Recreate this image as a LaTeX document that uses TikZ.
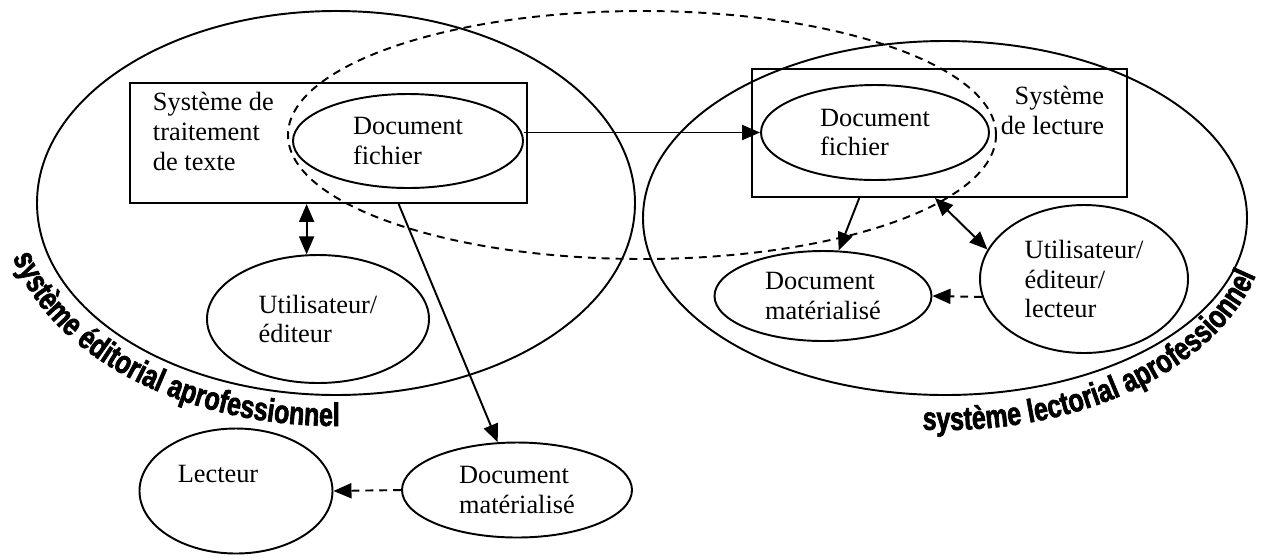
\documentclass[tikz,border=0pt]{standalone}
\usepackage{fontspec}
\setmainfont{Liberation Serif}
\newfontfamily\wafont[FakeStretch=0.77,FakeBold=2]{Liberation Sans}
\usetikzlibrary{arrows.meta,decorations.text,shapes.geometric}

\newcommand\wastyle{\wafont\bfseries\fontsize{18.5}{18.5}\selectfont}

\tikzset{
	bubble/.style={draw, ellipse, inner sep=0pt, align=left},
	sysbox/.style={draw, rectangle, inner sep=0pt},
	dashline/.style={dash pattern=on 4.5pt off 3.4pt},
}

\begin{document}
\begin{tikzpicture}[font=\fontsize{15}{17}\selectfont, line width=1.1pt, >={Triangle[length=0.36cm,width=0.3cm]}]
	\useasboundingbox (0,0) rectangle (25.32,-11.16);
	
	% the two systems and the shared part
	\node[bubble, minimum width=11.96cm, minimum height=7.68cm] (editsys) at (6.72,-4.06) {};
	\node[bubble, minimum width=12.08cm, minimum height=7.08cm] (readsys) at (18.9,-4.36) {};
	\node[bubble, dashline, minimum width=14.16cm, minimum height=4.96cm] (shared) at (12.84,-2.7) {};
	
	% software boxes
	\node[sysbox, minimum width=7.94cm, minimum height=2.4cm] (sysl) at (6.57,-2.86) {};
	\node[anchor=north west, align=left, inner sep=0pt] (sysltxt) at (3.04,-1.82) {Système de\\traitement\\de texte};
	\node[sysbox, minimum width=7.5cm, minimum height=2.56cm] (sysr) at (18.79,-2.66) {};
	\node[anchor=north east, align=right, inner sep=0pt] (sysrtxt) at (22.1,-1.7) {Système\\de lecture};
	
	% documents and people
	\node[bubble, minimum width=4.6cm, minimum height=1.88cm] (dfl) at (8.16,-2.82) {Document\\fichier};
	\node[bubble, minimum width=4.56cm, minimum height=1.9cm] (dfr) at (17.5,-2.65) {Document\\fichier};
	\node[bubble, minimum width=4.44cm, minimum height=2.56cm] (ul) at (6.36,-6.38) {Utilisateur/\\éditeur};
	\node[bubble, minimum width=4.6cm, minimum height=1.9cm] (dml) at (10.34,-9.8) {Document\\matérialisé};
	\node[bubble, minimum width=3.86cm, minimum height=2.5cm] (reader) at (4.72,-9.82) {};
	\node (readertxt) at ([shift={(-0.36,0.34)}]reader.center) {Lecteur};
	\node[bubble, minimum width=4.34cm, minimum height=1.8cm] (dmr) at (16.46,-5.92) {Document\\matérialisé};
	\node[bubble, minimum width=4.16cm, minimum height=2.96cm] (uel) at (21.68,-5.58) {Utilisateur/\\éditeur/\\lecteur};
	
	% arrows
	\draw[->] (dfl.east |- dfr.west) -- (dfr.west);
	\draw[<->] (sysl.south -| ul.100) -- (ul.100);
	\draw[->] (sysl.-41) -- (dml.112);
	\draw[->, dashline] (dml.west) -- (reader.east);
	\draw[->] (sysr.219) -- (dmr.71);
	\draw[<->] (sysr.266) -- (uel.163);
	\draw[->, dashline] (uel.190) -- (dmr.east);
	
	% titles round the systems
	\path[decorate, decoration={text along path, text align=left, text={|\wastyle|système éditorial aprofessionnel}}]
		(editsys.center) ++(194:6.66 and 4.46) arc[start angle=194, end angle=285, x radius=6.66, y radius=4.46];
	\path[decorate, decoration={text along path, text align=left, text={|\wastyle|système lectorial aprofessionnel}}]
		(readsys.center) ++(266:6.46 and 4.24) arc[start angle=266, end angle=368, x radius=6.46, y radius=4.24];
\end{tikzpicture}
\end{document}
